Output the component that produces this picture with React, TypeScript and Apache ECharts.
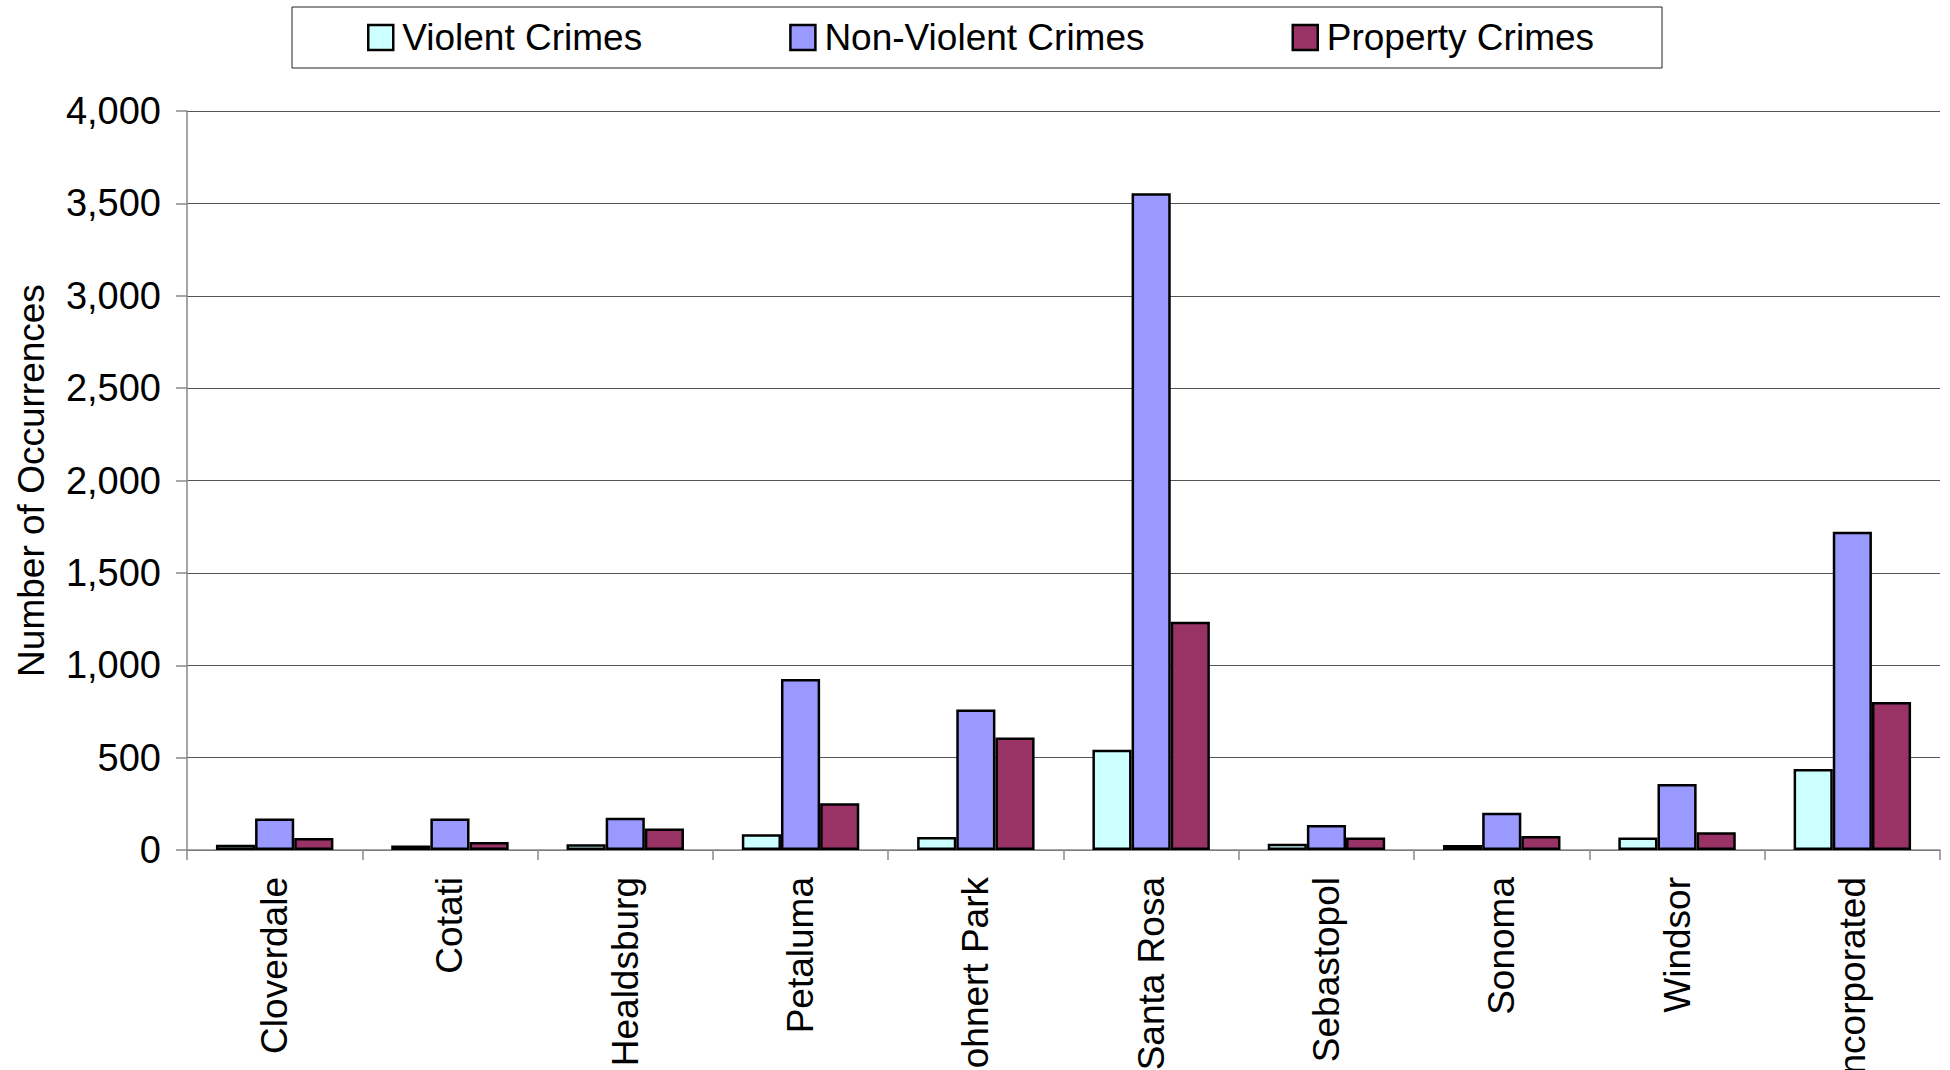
import React, { useEffect, useRef } from "react";
import * as echarts from "echarts";

const categories = [
  "Cloverdale",
  "Cotati",
  "Healdsburg",
  "Petaluma",
  "Rohnert Park",
  "Santa Rosa",
  "Sebastopol",
  "Sonoma",
  "Windsor",
  "Unincorporated",
];
const violentCrimes = [29, 25, 31, 85, 70, 542, 34, 27, 67, 439];
const nonViolentCrimes = [170, 170, 175, 926, 761, 3555, 135, 202, 357, 1722];
const propertyCrimes = [65, 43, 116, 253, 609, 1236, 67, 76, 96, 801];

const FONT = "'Liberation Sans', Arial, sans-serif";

export default function App() {
  const ref = useRef<HTMLDivElement>(null);

  useEffect(() => {
    document.body.style.margin = "0";
    if (!ref.current) return;
    const chart = echarts.init(ref.current, undefined, { renderer: "svg" });
    const barBase = {
      type: "bar" as const,
      barGap: "0%",
      barCategoryGap: "33%",
    };
    chart.setOption({
      animation: false,
      backgroundColor: "#ffffff",
      textStyle: { fontFamily: FONT },
      legend: {
        left: 292,
        top: 7,
        padding: [12, 68, 12, 75],
        itemGap: 147,
        itemWidth: 25,
        itemHeight: 25,
        icon: "rect",
        itemStyle: { borderColor: "#000", borderWidth: 2.5 },
        borderColor: "#222",
        borderWidth: 1,
        textStyle: { fontFamily: FONT, fontSize: 37, color: "#000", padding: [0, 0, 0, 4] },
        data: ["Violent Crimes", "Non-Violent Crimes", "Property Crimes"],
      },
      grid: {
        left: 187,
        top: 111,
        width: 1753,
        height: 739,
        containLabel: false,
        outerBoundsMode: "none",
      },
      xAxis: {
        type: "category",
        data: categories,
        boundaryGap: true,
        axisLine: { show: true, lineStyle: { color: "#888", width: 1.5 } },
        axisTick: { show: true, length: 10, lineStyle: { color: "#888", width: 1.5 } },
        axisLabel: {
          rotate: 90,
          margin: 27,
          interval: 0,
          fontFamily: FONT,
          fontSize: 37,
          color: "#000",
        },
      },
      yAxis: {
        type: "value",
        min: 0,
        max: 4000,
        interval: 500,
        name: "Number of Occurrences",
        nameLocation: "middle",
        nameRotate: 90,
        nameGap: 137,
        nameTextStyle: { fontFamily: FONT, fontSize: 37, color: "#000" },
        axisLine: { show: true, lineStyle: { color: "#888", width: 1.5 } },
        axisTick: { show: true, length: 11, lineStyle: { color: "#888", width: 1.5 } },
        splitLine: { show: true, lineStyle: { color: "#555", width: 1 } },
        axisLabel: {
          margin: 26,
          fontFamily: FONT,
          fontSize: 38,
          color: "#000",
          formatter: (v: number) => v.toLocaleString("en-US"),
        },
      },
      series: [
        {
          ...barBase,
          name: "Violent Crimes",
          data: violentCrimes,
          itemStyle: { color: "#CCFFFF", borderColor: "#000", borderWidth: 2.5 },
        },
        {
          ...barBase,
          name: "Non-Violent Crimes",
          data: nonViolentCrimes,
          itemStyle: { color: "#9999FF", borderColor: "#000", borderWidth: 2.5 },
        },
        {
          ...barBase,
          name: "Property Crimes",
          data: propertyCrimes,
          itemStyle: { color: "#993366", borderColor: "#000", borderWidth: 2.5 },
        },
      ],
    });
    return () => chart.dispose();
  }, []);

  return <div ref={ref} style={{ width: 1950, height: 1070 }} />;
}
